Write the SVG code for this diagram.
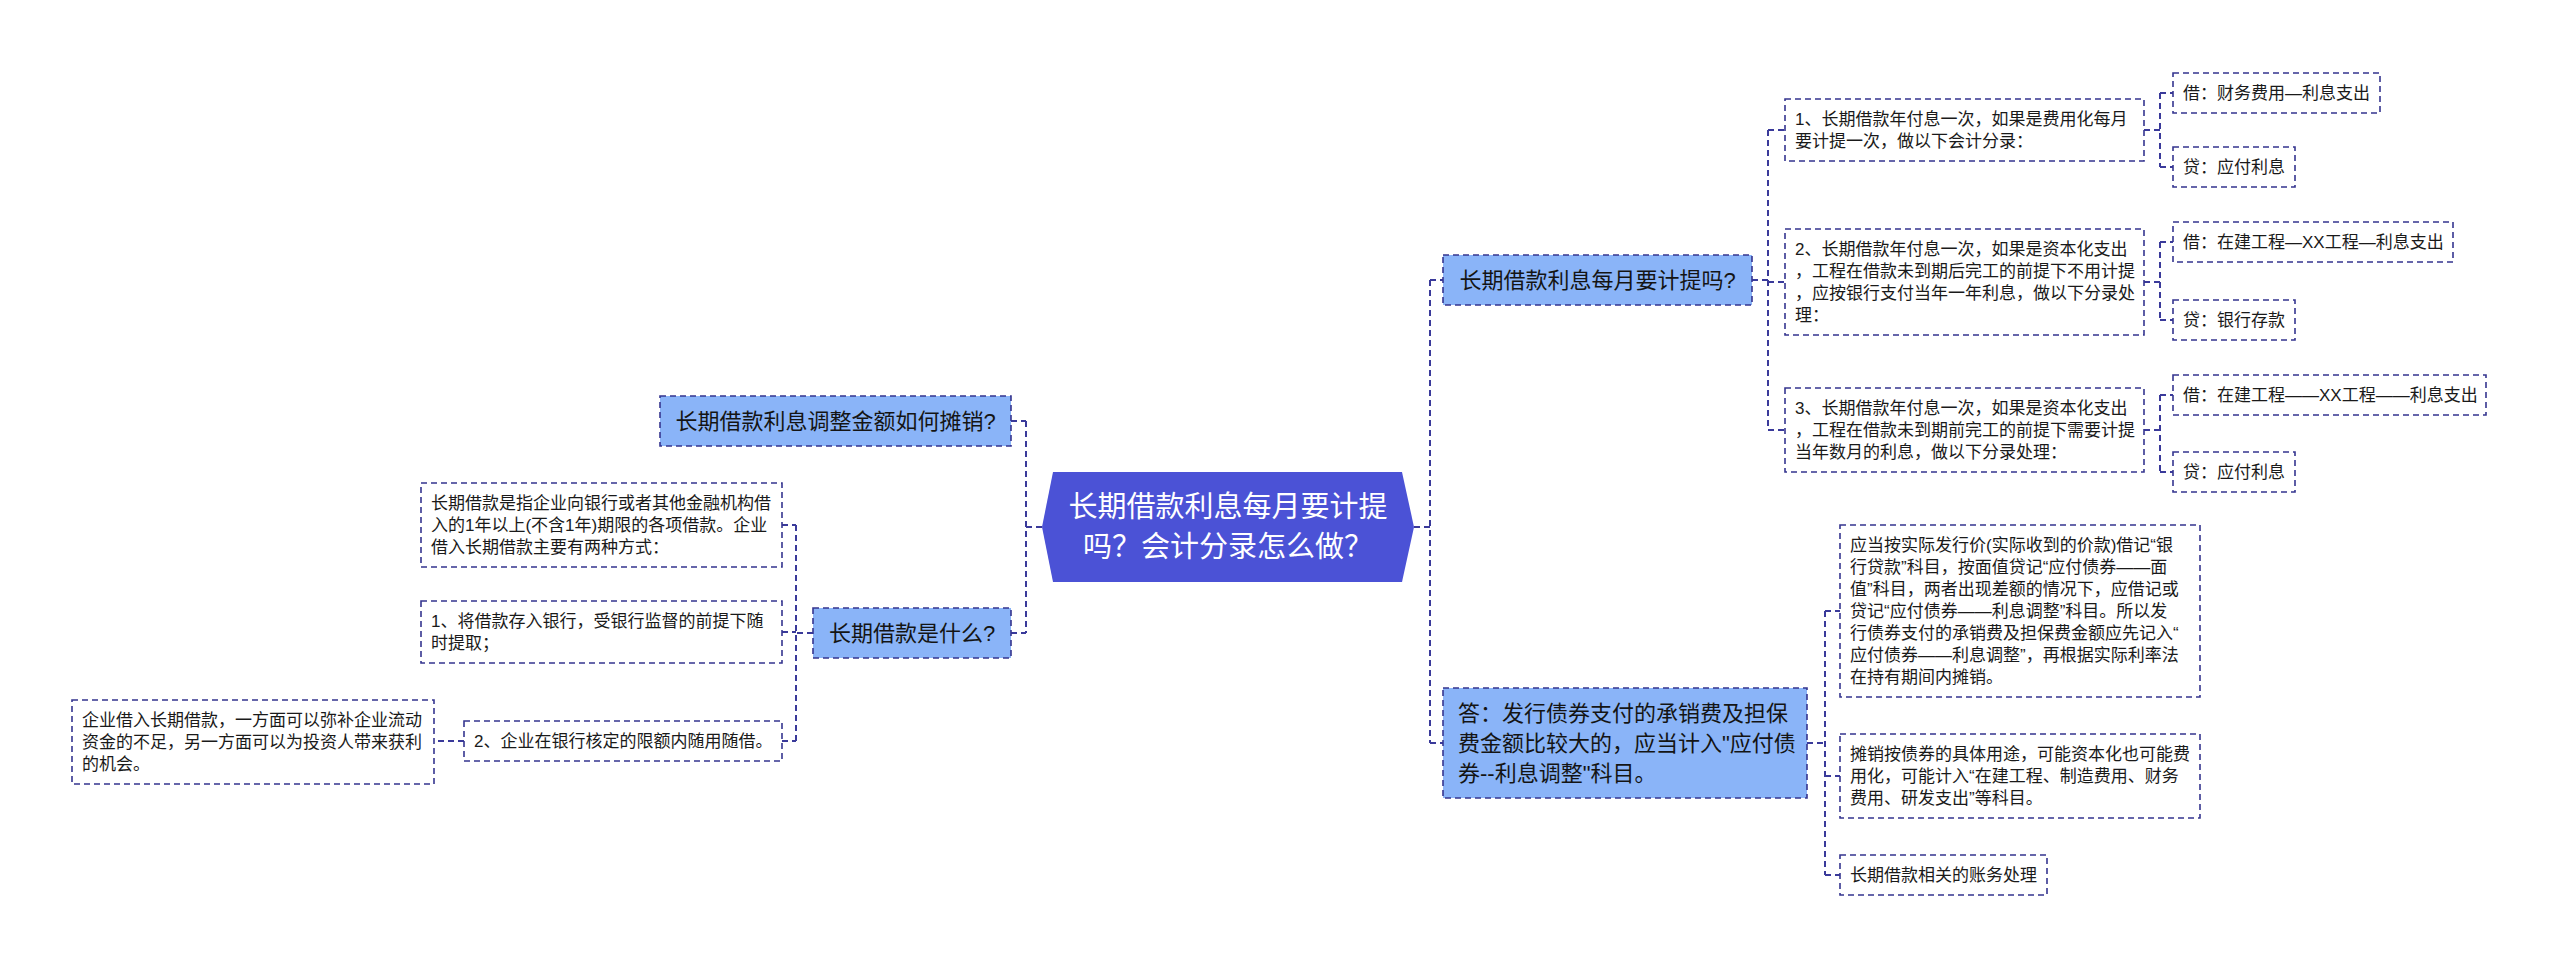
<svg xmlns="http://www.w3.org/2000/svg" width="2560" height="966" viewBox="0 0 2560 966">
<style>
text{font-family:"Liberation Sans","Noto Sans CJK SC",sans-serif;}
.leaf{fill:#ffffff;stroke:#35358f;stroke-width:1.6;stroke-dasharray:6 4;}
.l1{fill:#8ab4f8;stroke:#35358f;stroke-width:1.6;stroke-dasharray:6 4;}
.t17{font-size:17px;fill:#1a1a1a;}
.t22{font-size:22px;fill:#141414;}
.t29{font-size:29px;fill:#ffffff;}
.conn path{fill:none;stroke:#3a3a9a;stroke-width:2;stroke-dasharray:6 4;}
</style>
<rect width="2560" height="966" fill="#ffffff"/>
<g class="conn" id="connectors">
<path d="M1042 527H1026M1026 421V633M1011 421H1026M1011 633H1026"/>
<path d="M813 633H796M796 525V741M782 525H796M782 632H796M782 741H796"/>
<path d="M464 741H434"/>
<path d="M1414 527H1430M1430 280V743M1430 280H1443M1430 743H1443"/>
<path d="M1752 280H1768M1768 130V430M1768 130H1785M1768 282H1785M1768 430H1785"/>
<path d="M2144 130H2160M2160 93V167M2160 93H2173M2160 167H2173"/>
<path d="M2144 282H2160M2160 242V320M2160 242H2173M2160 320H2173"/>
<path d="M2144 430H2160M2160 395V472M2160 395H2173M2160 472H2173"/>
<path d="M1807 743H1825M1825 611V875M1825 611H1840M1825 776H1840M1825 875H1840"/>
</g>
<g id="root">
<polygon points="1042,527 1053,472 1402,472 1414,527 1402,582 1053,582" fill="#4b52d6"/>
<text class="t29" x="1228" y="517" text-anchor="middle">长期借款利息每月要计提</text>
<text class="t29" x="1228" y="557" text-anchor="middle">吗？会计分录怎么做？</text>
</g>
<g id="n-tanxiao">
<rect class="l1" x="660" y="396" width="351" height="50"/>
<text class="t22" x="835.5" y="429" text-anchor="middle">长期借款利息调整金额如何摊销?</text>
</g>
<g id="n-shenme">
<rect class="l1" x="813" y="608" width="198" height="50"/>
<text class="t22" x="912" y="641" text-anchor="middle">长期借款是什么?</text>
</g>
<g id="n-dingyi">
<rect class="leaf" x="421" y="483" width="361" height="84"/>
<text class="t17" x="431" y="509">长期借款是指企业向银行或者其他金融机构借</text>
<text class="t17" x="431" y="531">入的1年以上(不含1年)期限的各项借款。企业</text>
<text class="t17" x="431" y="553">借入长期借款主要有两种方式：</text>
</g>
<g id="n-fangshi1">
<rect class="leaf" x="421" y="601" width="361" height="62"/>
<text class="t17" x="431" y="627">1、将借款存入银行，受银行监督的前提下随</text>
<text class="t17" x="431" y="649">时提取；</text>
</g>
<g id="n-fangshi2">
<rect class="leaf" x="464" y="721" width="318" height="40"/>
<text class="t17" x="474" y="747">2、企业在银行核定的限额内随用随借。</text>
</g>
<g id="n-jiru">
<rect class="leaf" x="72" y="700" width="362" height="84"/>
<text class="t17" x="82" y="726">企业借入长期借款，一方面可以弥补企业流动</text>
<text class="t17" x="82" y="748">资金的不足，另一方面可以为投资人带来获利</text>
<text class="t17" x="82" y="770">的机会。</text>
</g>
<g id="n-jiti">
<rect class="l1" x="1443" y="255" width="309" height="50"/>
<text class="t22" x="1597.5" y="288" text-anchor="middle">长期借款利息每月要计提吗?</text>
</g>
<g id="n-r1">
<rect class="leaf" x="1785" y="99" width="359" height="62"/>
<text class="t17" x="1795" y="125">1、长期借款年付息一次，如果是费用化每月</text>
<text class="t17" x="1795" y="147">要计提一次，做以下会计分录：</text>
</g>
<g id="n-r1a">
<rect class="leaf" x="2173" y="73" width="207" height="40"/>
<text class="t17" x="2183" y="99">借：财务费用—利息支出</text>
</g>
<g id="n-r1b">
<rect class="leaf" x="2173" y="147" width="122" height="40"/>
<text class="t17" x="2183" y="173">贷：应付利息</text>
</g>
<g id="n-r2">
<rect class="leaf" x="1785" y="229" width="359" height="106"/>
<text class="t17" x="1795" y="255">2、长期借款年付息一次，如果是资本化支出</text>
<text class="t17" x="1795" y="277">，工程在借款未到期后完工的前提下不用计提</text>
<text class="t17" x="1795" y="299">，应按银行支付当年一年利息，做以下分录处</text>
<text class="t17" x="1795" y="321">理：</text>
</g>
<g id="n-r2a">
<rect class="leaf" x="2173" y="222" width="280" height="40"/>
<text class="t17" x="2183" y="248">借：在建工程—XX工程—利息支出</text>
</g>
<g id="n-r2b">
<rect class="leaf" x="2173" y="300" width="122" height="40"/>
<text class="t17" x="2183" y="326">贷：银行存款</text>
</g>
<g id="n-r3">
<rect class="leaf" x="1785" y="388" width="359" height="84"/>
<text class="t17" x="1795" y="414">3、长期借款年付息一次，如果是资本化支出</text>
<text class="t17" x="1795" y="436">，工程在借款未到期前完工的前提下需要计提</text>
<text class="t17" x="1795" y="458">当年数月的利息，做以下分录处理：</text>
</g>
<g id="n-r3a">
<rect class="leaf" x="2173" y="375" width="313" height="40"/>
<text class="t17" x="2183" y="401">借：在建工程——XX工程——利息支出</text>
</g>
<g id="n-r3b">
<rect class="leaf" x="2173" y="452" width="122" height="40"/>
<text class="t17" x="2183" y="478">贷：应付利息</text>
</g>
<g id="n-answer">
<rect class="l1" x="1443" y="688" width="364" height="110"/>
<text class="t22" x="1458" y="721">答：发行债券支付的承销费及担保</text>
<text class="t22" x="1458" y="751">费金额比较大的，应当计入"应付债</text>
<text class="t22" x="1458" y="781">券--利息调整"科目。</text>
</g>
<g id="n-a1">
<rect class="leaf" x="1840" y="525" width="360" height="172"/>
<text class="t17" x="1850" y="551">应当按实际发行价(实际收到的价款)借记“银</text>
<text class="t17" x="1850" y="573">行贷款”科目，按面值贷记“应付债券——面</text>
<text class="t17" x="1850" y="595">值”科目，两者出现差额的情况下，应借记或</text>
<text class="t17" x="1850" y="617">贷记“应付债券——利息调整”科目。所以发</text>
<text class="t17" x="1850" y="639">行债券支付的承销费及担保费金额应先记入“</text>
<text class="t17" x="1850" y="661">应付债券——利息调整”，再根据实际利率法</text>
<text class="t17" x="1850" y="683">在持有期间内摊销。</text>
</g>
<g id="n-a2">
<rect class="leaf" x="1840" y="734" width="360" height="84"/>
<text class="t17" x="1850" y="760">摊销按债券的具体用途，可能资本化也可能费</text>
<text class="t17" x="1850" y="782">用化，可能计入“在建工程、制造费用、财务</text>
<text class="t17" x="1850" y="804">费用、研发支出”等科目。</text>
</g>
<g id="n-a3">
<rect class="leaf" x="1840" y="855" width="207" height="40"/>
<text class="t17" x="1850" y="881">长期借款相关的账务处理</text>
</g>
</svg>
